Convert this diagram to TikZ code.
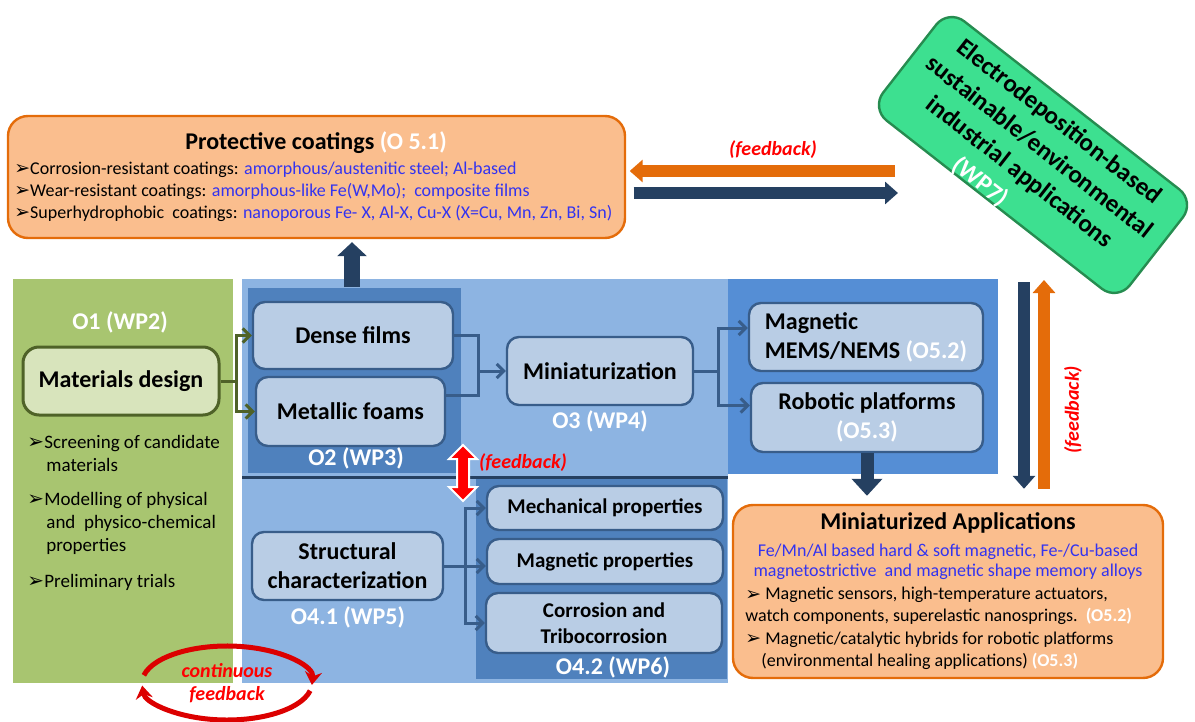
\documentclass[tikz,border=0pt]{standalone}
\usepackage{fontspec}
\setmainfont{Carlito}
\newfontfamily\dingfont{DejaVu Sans}
\usetikzlibrary{arrows.meta,shapes.arrows,calc}

\definecolor{coatfill}{RGB}{250,190,142}
\definecolor{coatline}{RGB}{228,108,10}
\definecolor{bluetext}{RGB}{51,51,240}
\definecolor{olivepanel}{RGB}{168,197,112}
\definecolor{olivebox}{RGB}{216,228,188}
\definecolor{oliveline}{RGB}{79,98,40}
\definecolor{lightpanel}{RGB}{141,180,226}
\definecolor{midpanel}{RGB}{79,129,189}
\definecolor{mempanel}{RGB}{85,142,213}
\definecolor{cellfill}{RGB}{185,205,229}
\definecolor{cellline}{RGB}{56,93,138}
\definecolor{navy}{RGB}{37,64,97}
\definecolor{mint}{RGB}{61,224,144}
\definecolor{mintline}{RGB}{38,140,80}
\definecolor{fbred}{RGB}{255,0,0}
\definecolor{loopred}{RGB}{220,0,0}

\newcommand{\bul}{\raisebox{-0.02em}{\scalebox{1.05}{\dingfont ➢}}}

\tikzstyle{panel}=[rectangle, inner sep=0pt, draw=none]
\tikzstyle{cell}=[draw=cellline, fill=cellfill, line width=1.2pt, rounded corners=6pt,
    align=center, inner sep=2pt, font=\fontsize{12}{14.5}\selectfont\bfseries]
\tikzstyle{prop}=[cell, minimum width=118pt, font=\fontsize{10.5}{13}\selectfont\bfseries]
\tikzstyle{mdbox}=[draw=oliveline, fill=olivebox, line width=1.5pt, rounded corners=8pt,
    minimum width=98pt, minimum height=34pt, font=\fontsize{12}{14}\selectfont\bfseries]
\tikzstyle{coatbox}=[draw=coatline, fill=coatfill, line width=1.2pt, rounded corners=10pt, inner sep=0pt]
\tikzstyle{wpbox}=[draw=mintline, fill=mint, line width=1.2pt, rounded corners=10pt, rotate=-38,
    minimum width=156.5pt, minimum height=63pt, inner sep=0pt]
\tikzstyle{wptext}=[rotate=-38, inner sep=0pt, align=center,
    font=\fontsize{12.5}{16}\selectfont\bfseries]
\tikzstyle{tag}=[text=white, font=\fontsize{12}{14}\selectfont\bfseries]
\tikzstyle{apptitle}=[font=\fontsize{12}{14}\selectfont\bfseries]
\tikzstyle{body}=[anchor=west, align=left, inner sep=0pt, font=\fontsize{9}{11}\selectfont]
\tikzstyle{obul}=[anchor=west, align=left, inner sep=0pt, font=\fontsize{9.5}{11.5}\selectfont]
\tikzstyle{fbnote}=[text=fbred, font=\fontsize{10}{11.5}\selectfont\bfseries\itshape]
\tikzstyle{link}=[draw=cellline, line width=1.5pt, -{Straight Barb[length=3.5pt,width=7pt]}]
\tikzstyle{fat}=[line width=5.75pt, -{Triangle[width=11pt,length=6.5pt]}]
\tikzstyle{loopline}=[draw=loopred, line width=2.5pt, -{Stealth[length=6.5pt,width=8.5pt]}]
\tikzstyle{fbdouble}=[double arrow, fill=fbred, draw=white, line width=1pt, rotate=90,
    minimum height=28pt, minimum width=0pt, inner sep=2.5pt,
    double arrow head extend=4pt, double arrow head indent=0pt]

\begin{document}
\begin{tikzpicture}[x=0.5pt, y=-0.5pt]
    \useasboundingbox (0,0) rectangle (1195,722);

    % panels
    \node[panel, fill=olivepanel, minimum width=110pt, minimum height=202pt] (o1panel) at (123,481) {};
    \node[panel, fill=lightpanel, minimum width=243pt, minimum height=202pt] (blueback) at (485,481) {};
    \node[panel, fill=mempanel, minimum width=135pt, minimum height=97.5pt] (mempanel) at (863,376.5) {};
    \node[panel, fill=midpanel, minimum width=106.5pt, minimum height=92.5pt] (o2panel) at (354.5,380.5) {};
    \node[panel, fill=midpanel, minimum width=125.5pt, minimum height=100pt] (o42panel) at (601.5,579) {};
    \draw[navy, line width=1.5pt] (242,477) -- (728,477);

    % top boxes
    \node[coatbox, minimum width=308.5pt, minimum height=61pt] (coat) at (316.5,177) {};
    \node[apptitle] (coattitle) at (316,143) {Protective coatings \textcolor{white}{(O 5.1)}};
    \node[body] (cl1) at (14,170) {\strut\bul Corrosion-resistant coatings: \textcolor{bluetext}{amorphous/austenitic steel; Al-based}};
    \node[body] (cl2) at (14,192) {\strut\bul Wear-resistant coatings: \textcolor{bluetext}{amorphous-like Fe(W,Mo);\ \ composite films}};
    \node[body] (cl3) at (14,214) {\strut\bul Superhydrophobic\ \ coatings: \textcolor{bluetext}{nanoporous Fe- X, Al-X, Cu-X (X=Cu, Mn, Zn, Bi, Sn)}};

    \node[wpbox] (wp7) at (1033,155) {};
    \node[wptext] (wp7text) at (1029,160) {Electrodeposition-based\\sustainable/environmental\\industrial applications\\\textcolor{white}{(WP7)}\hspace*{25pt}};

    % O1
    \node[tag] (o1tag) at (120,322) {O1 (WP2)};
    \node[mdbox] (matdesign) at (121,381) {Materials design};
    \node[obul] (item1) at (27,453) {\makebox[8.5pt][l]{\bul}Screening of candidate\\\hspace*{9.5pt}materials};
    \node[obul] (item2) at (27,523) {\makebox[8.5pt][l]{\bul}Modelling of physical\\\hspace*{9.5pt}and\ \ physico-chemical\\\hspace*{9.5pt}properties};
    \node[obul] (item3) at (27,582) {\makebox[8.5pt][l]{\bul}Preliminary trials};

    % O2 / O3
    \node[cell, minimum width=100pt, minimum height=33.5pt] (dense) at (353,335.5) {Dense films};
    \node[cell, minimum width=94.5pt, minimum height=34.5pt] (foams) at (350.5,411.5) {Metallic foams};
    \node[tag] (o2tag) at (356,458) {O2 (WP3)};
    \node[cell, minimum width=93pt, minimum height=34pt] (mini) at (600,371) {Miniaturization};
    \node[tag] (o3tag) at (600,421) {O3 (WP4)};

    % O5.2 / O5.3
    \node[cell, align=left, minimum width=117pt, minimum height=34pt] (mems) at (866,337) {Magnetic\\MEMS/NEMS \textcolor{white}{(O5.2)}};
    \node[cell, minimum width=116pt, minimum height=34.5pt] (robot) at (867,417.5) {Robotic platforms\\\textcolor{white}{(O5.3)}};

    % O4
    \node[cell, minimum width=95.5pt, minimum height=34pt] (struct) at (347.5,566) {Structural\\characterization};
    \node[tag] (o41tag) at (348,617) {O4.1 (WP5)};
    \node[prop, minimum height=22pt] (mech) at (605,508) {Mechanical properties};
    \node[prop, minimum height=22.5pt] (magn) at (605,561.5) {Magnetic properties};
    \node[prop, minimum height=30pt] (corr) at (604,623) {Corrosion and\\Tribocorrosion};
    \node[tag] (o42tag) at (613,667) {O4.2 (WP6)};

    % miniaturized applications
    \node[coatbox, minimum width=215pt, minimum height=86.5pt] (miniapp) at (948,591.5) {};
    \node[apptitle] (miniapptitle) at (948,523) {Miniaturized Applications};
    \node[body, anchor=center, align=center, font=\fontsize{9}{10}\selectfont, text=bluetext] (alloys) at (948,562)
        {Fe/Mn/Al based hard \& soft magnetic, Fe-/Cu-based\\magnetostrictive\ \ and magnetic shape memory alloys};
    \node[body] (ml1) at (745,606) {\bul\ Magnetic sensors, high-temperature actuators,\\watch components, superelastic nanosprings.\ \ \textcolor{white}{\bfseries(O5.2)}};
    \node[body] (ml2) at (745,650.5) {\bul\ Magnetic/catalytic hybrids for robotic platforms\\\hspace*{8pt}(environmental healing applications) \textcolor{white}{\bfseries(O5.3)}};

    % thin connectors
    \coordinate (j0) at (236,381);
    \draw[link, draw=oliveline] (matdesign.east) -- (j0) |- (dense.west);
    \draw[link, draw=oliveline] (j0) |- (foams.west);
    \coordinate (j1) at (478,371);
    \draw[link] (dense.east) -| (j1) -- (mini.west);
    \draw[draw=cellline, line width=1.5pt] ([yshift=8pt]foams.east) -| (j1);
    \coordinate (j2) at (718,371);
    \draw[link] (mini.east) -- (j2) |- ([yshift=4.5pt]mems.west);
    \draw[link] (j2) |- ([yshift=6pt]robot.west);
    \coordinate (j3) at (465,566);
    \draw[link] (struct.east) -- (magn.west |- struct.east);
    \draw[link] (j3) |- (mech.west);
    \draw[link] (j3) |- (corr.west);

    % block arrows
    \coordinate (upfoot) at (352,287);
    \draw[fat, draw=navy, line width=8pt, -{Triangle[width=14.5pt,length=7pt]}, shorten >=1.5pt]
        (upfoot) -- (upfoot |- coat.south);
    \draw[fat, draw=navy, line width=6.5pt, -{Triangle[width=15pt,length=8.5pt]}, shorten >=4pt]
        (robot.south) -- (robot.south |- miniapp.north);
    \coordinate (fbtail) at (895,171);
    \draw[fat, draw=coatline, shorten >=1.75pt] (fbtail) -- (fbtail -| coat.east);
    \coordinate (fwtip) at (898,193);
    \draw[fat, draw=navy, shorten <=3.75pt] (fwtip -| coat.east) -- (fwtip);
    \coordinate (dntop) at (1024,282);
    \draw[fat, draw=navy, shorten >=7.5pt] (dntop) -- (dntop |- miniapp.north);
    \coordinate (uptop) at (1044,280);
    \draw[fat, draw=coatline, shorten <=7.5pt] (uptop |- miniapp.north) -- (uptop);

    % feedback marks
    \node[fbnote] (fbtopnote) at (773,150) {(feedback)};
    \node[fbnote, rotate=90] (fbsidenote) at (1073,410) {(feedback)};
    \node[fbdouble] (fbarrow) at (463,473) {};
    \node[fbnote] (fbmidnote) at (523,463) {(feedback)};

    \coordinate (loop) at (227,683);
    \draw[loopline] (loop) ++(168:42.5pt and 18.5pt) arc[start angle=168, end angle=-3, x radius=42.5pt, y radius=18.5pt];
    \draw[loopline] (loop) ++(-12:42.5pt and 18.5pt) arc[start angle=-12, end angle=-176, x radius=42.5pt, y radius=18.5pt];
    \node[fbnote, align=center] (loopnote) at (227,683.5) {continuous\\feedback};
\end{tikzpicture}
\end{document}
